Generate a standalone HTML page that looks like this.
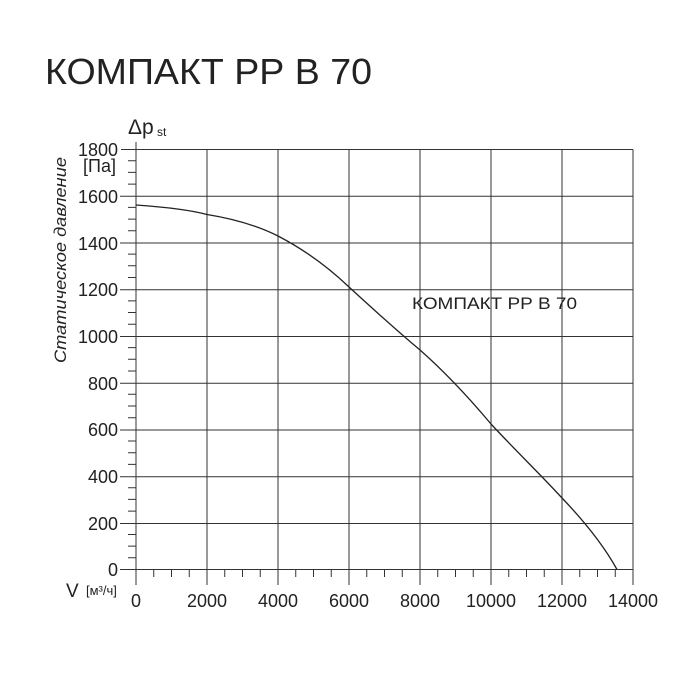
<!DOCTYPE html>
<html><head><meta charset="utf-8"><style>body{margin:0;background:#fff}svg{display:block}</style></head>
<body>
<svg width="700" height="700" xmlns="http://www.w3.org/2000/svg" font-family="Liberation Sans, DejaVu Sans, sans-serif" fill="#222">
<text x="45" y="84" font-size="36" textLength="327" lengthAdjust="spacingAndGlyphs">КОМПАКТ РР В 70</text>
<g stroke="#333" stroke-width="1">
<line x1="121" y1="149.5" x2="633" y2="149.5"/>
<line x1="120" y1="196.3" x2="633" y2="196.3"/>
<line x1="120" y1="243" x2="633" y2="243"/>
<line x1="120" y1="289.8" x2="633" y2="289.8"/>
<line x1="120" y1="336.5" x2="633" y2="336.5"/>
<line x1="120" y1="383.3" x2="633" y2="383.3"/>
<line x1="120" y1="430" x2="633" y2="430"/>
<line x1="120" y1="476.8" x2="633" y2="476.8"/>
<line x1="120" y1="523.5" x2="633" y2="523.5"/>
<line x1="120" y1="569.5" x2="633" y2="569.5"/>
<line x1="136" y1="142" x2="136" y2="585"/>
<line x1="207" y1="149.5" x2="207" y2="585"/>
<line x1="278" y1="149.5" x2="278" y2="585"/>
<line x1="349" y1="149.5" x2="349" y2="585"/>
<line x1="420" y1="149.5" x2="420" y2="585"/>
<line x1="491" y1="149.5" x2="491" y2="585"/>
<line x1="562" y1="149.5" x2="562" y2="585"/>
<line x1="633" y1="149.5" x2="633" y2="585"/>
</g>
<path fill="none" stroke="#333" stroke-width="1" d="M128,557.8H136M128,546.1H136M128,534.5H136M128,511.1H136M128,499.4H136M128,487.7H136M128,464.4H136M128,452.7H136M128,441H136M128,417.7H136M128,406H136M128,394.3H136M128,371H136M128,359.3H136M128,347.6H136M128,324.2H136M128,312.5H136M128,300.9H136M128,277.5H136M128,265.8H136M128,254.1H136M128,230.8H136M128,219.1H136M128,207.4H136M128,184.1H136M128,172.4H136M128,160.7H136
M153.75,569.5V577M171.5,569.5V577M189.25,569.5V577M224.75,569.5V577M242.5,569.5V577M260.25,569.5V577M295.75,569.5V577M313.5,569.5V577M331.25,569.5V577M366.75,569.5V577M384.5,569.5V577M402.25,569.5V577M437.75,569.5V577M455.5,569.5V577M473.25,569.5V577M508.75,569.5V577M526.5,569.5V577M544.25,569.5V577M579.75,569.5V577M597.5,569.5V577M615.25,569.5V577"/>
<path d="M136,205 C165,207 190,210 207,214.5 C235,219 258,226 278,236 C303,249 327,266 349,287 C373,309 397,331 420,350 C445,372 470,399 491,424 C515,450 540,474 562,498 C585,522 604,546 617,569.5" fill="none" stroke="#222" stroke-width="1.3"/>
<g font-size="18" text-anchor="end">
<text x="118" y="156">1800</text>
<text x="118" y="203">1600</text>
<text x="118" y="250">1400</text>
<text x="118" y="296">1200</text>
<text x="118" y="343">1000</text>
<text x="118" y="390">800</text>
<text x="118" y="436">600</text>
<text x="118" y="483">400</text>
<text x="118" y="530">200</text>
<text x="118" y="576">0</text>
</g>
<text x="83" y="172" font-size="18">[Па]</text>
<text x="128" y="134" font-size="21">Δp</text>
<text x="157" y="136" font-size="12">st</text>
<text transform="translate(66,260) rotate(-90)" text-anchor="middle" font-size="17" font-style="italic" textLength="206" lengthAdjust="spacingAndGlyphs">Статическое давление</text>
<g font-size="18" text-anchor="middle">
<text x="136" y="607">0</text>
<text x="207" y="607">2000</text>
<text x="278" y="607">4000</text>
<text x="349" y="607">6000</text>
<text x="420" y="607">8000</text>
<text x="491" y="607">10000</text>
<text x="562" y="607">12000</text>
<text x="633" y="607">14000</text>
</g>
<text x="66" y="597" font-size="19">V</text>
<text x="86" y="595" font-size="13">[м³/ч]</text>
<text x="412" y="309" font-size="17" textLength="165" lengthAdjust="spacingAndGlyphs">КОМПАКТ РР В 70</text>
</svg>
</body></html>
